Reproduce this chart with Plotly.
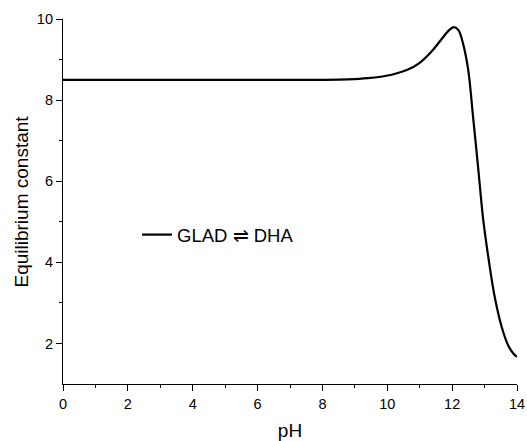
import plotly.graph_objects as go

ph = [0, 2, 4, 6, 8, 8.8, 9.4, 10.1, 10.6, 11.0, 11.4, 11.7, 11.9, 12.06, 12.2, 12.35, 12.5, 12.65, 12.8, 12.95, 13.13, 13.3, 13.53, 13.73, 13.88, 14.0]
k = [8.5, 8.5, 8.5, 8.5, 8.5, 8.51, 8.54, 8.62, 8.74, 8.92, 9.23, 9.53, 9.72, 9.80, 9.72, 9.35, 8.72, 7.55, 6.35, 5.11, 4.05, 3.20, 2.40, 1.95, 1.76, 1.67]

series_name = "GLAD \u21cc DHA"
x_title = "pH"
y_title = "Equilibrium constant"

fig = go.Figure()
fig.add_trace(go.Scatter(x=ph, y=k, mode="lines", name=series_name,
                         line=dict(color="black", width=2.2, shape="spline", smoothing=0.9)))

font = "Liberation Sans, Arial, sans-serif"
fig.update_layout(
    width=527, height=441,
    margin=dict(l=63, r=10, t=19, b=57),
    plot_bgcolor="white", paper_bgcolor="white",
    font=dict(family=font, size=14, color="black"),
    showlegend=True,
    legend=dict(x=0.163, y=0.408, xanchor="left", yanchor="middle",
                bgcolor="rgba(0,0,0,0)", font=dict(size=18.5)),
    annotations=[dict(text=y_title, xref="paper", yref="paper", x=0, y=0.5,
                      xanchor="center", yanchor="middle", xshift=-42, textangle=-90,
                      showarrow=False, font=dict(size=19))],
)
fig.update_xaxes(range=[0, 14], dtick=2, tick0=0, showgrid=False, zeroline=False,
                 showline=True, linecolor="black", linewidth=1.2, automargin=False,
                 ticks="outside", ticklen=6, tickcolor="black", tickfont=dict(size=14.5),
                 minor=dict(ticks="outside", ticklen=3, dtick=1, tickcolor="black", showgrid=False),
                 title=dict(text=x_title, font=dict(size=19)))
fig.update_yaxes(range=[1, 10], tickvals=[2, 4, 6, 8, 10], showgrid=False, zeroline=False,
                 showline=True, linecolor="black", linewidth=1.2, automargin=False,
                 ticks="outside", ticklen=6, tickcolor="black", tickfont=dict(size=14.5),
                 minor=dict(ticks="outside", ticklen=3, tickvals=[3, 5, 7, 9], tickcolor="black", showgrid=False))

fig.write_html("out.html", config={"displayModeBar": False},
               post_script="document.body.style.margin='0px';")
